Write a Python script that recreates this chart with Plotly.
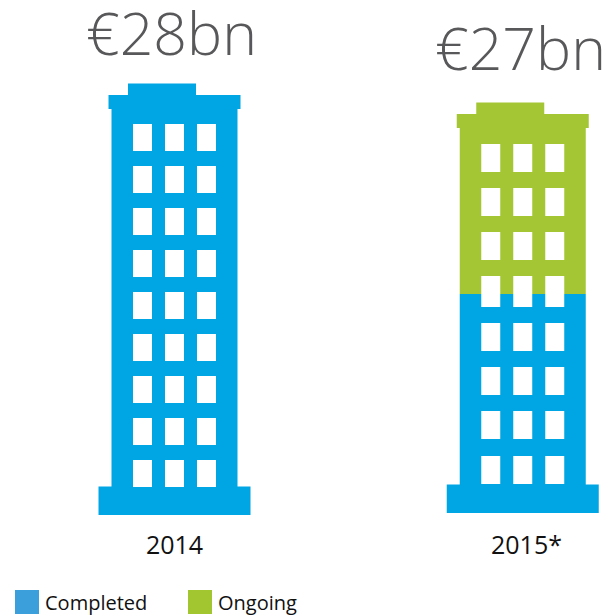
import plotly.graph_objects as go

# --- data (EUR bn, as drawn) ---
years = ["2014", "2015*"]
totals_label = ["€28bn", "€27bn"]
completed = [28.0, 15.1]
ongoing = [0.0, 11.45]
series_names = ["Completed", "Ongoing"]

# --- style / layout ---
BLUE = "#00a5e3"
GREEN = "#a5c634"
LEG_BLUE = "#3b9fdb"
LEG_GREEN = "#a2c62f"
W, H = 603, 616
AXIS_Y = 515
PX = 406 / 28  # pixels per bn
centers = [174.5, 522.75]
label_x = [174.5, 526.5]
base_lift = [0.0, 2 / PX]
BODY_W = 126

def y_px(p):
    return (AXIS_Y - p) / PX

fig = go.Figure()
fig.add_bar(name=series_names[0], x=centers, y=completed, base=base_lift, width=BODY_W,
            marker=dict(color=BLUE, line=dict(width=0)), showlegend=False)
fig.add_bar(name=series_names[1], x=centers, y=ongoing,
            base=[b + c for b, c in zip(base_lift, completed)], width=BODY_W,
            marker=dict(color=GREEN, line=dict(width=0)), showlegend=False)

shapes = []
def rect(x0, x1, y0, y1, color):
    shapes.append(dict(type="rect", xref="x", yref="y", x0=x0, x1=x1,
                       y0=y_px(y0), y1=y_px(y1), fillcolor=color,
                       line=dict(width=0), layer="above"))

win_tops = [
    [124 + 42 * i for i in range(9)],
    [144, 188, 232, 276, 323, 367, 411, 456],
]
win_h = [
    [27] * 9,
    [28, 28, 28, 31, 28, 28, 28, 28],
]
win_dx = [-32, 0, 32]

for i, c in enumerate(centers):
    total = completed[i] + ongoing[i] + base_lift[i]
    top_col = GREEN if ongoing[i] > 0 else BLUE
    base_bottom = AXIS_Y - base_lift[i] * PX
    body_top = AXIS_Y - total * PX
    # plinth
    rect(c - 76, c + 76, base_bottom - 28.5, base_bottom, BLUE)
    # cornice and off-centre cap sit on top of the body
    rect(c - 66, c + 66, body_top - 14, body_top, top_col)
    rect(c - 46.5, c + 21.5, body_top - 25.5, body_top - 14, top_col)
    for t, h in zip(win_tops[i], win_h[i]):
        for dx in win_dx:
            rect(c + dx - 9.5, c + dx + 9.5, t, t + h, "white")

ann = []
title_font = dict(family="Open Sans", size=59, color="#58585a", weight=300)
title_y = [32, 47]
title_x = [171.5, 520]
for i, c in enumerate(centers):
    ann.append(dict(x=title_x[i], y=y_px(title_y[i]), xref="x", yref="y", text=totals_label[i],
                    showarrow=False, font=title_font, xanchor="center", yanchor="middle"))

# legend drawn as swatches + labels
leg_y = 602
for x0, col, name in [(15, LEG_BLUE, series_names[0]), (188, LEG_GREEN, series_names[1])]:
    shapes.append(dict(type="rect", xref="x", yref="paper", x0=x0, x1=x0 + 24,
                       y0=(AXIS_Y - (leg_y + 12)) / AXIS_Y,
                       y1=(AXIS_Y - (leg_y - 12)) / AXIS_Y,
                       fillcolor=col, line=dict(width=0)))
    ann.append(dict(x=x0 + 28, y=(AXIS_Y - leg_y) / AXIS_Y, xref="x", yref="paper", text=name,
                    showarrow=False, xanchor="left", yanchor="middle",
                    font=dict(family="Open Sans", size=20, color="#111111", weight=500)))

fig.update_layout(
    width=W, height=H, margin=dict(l=0, r=0, t=0, b=H - AXIS_Y),
    paper_bgcolor="white", plot_bgcolor="white", barmode="overlay",
    shapes=shapes, annotations=ann, showlegend=False,
    xaxis=dict(range=[0, W], tickmode="array", tickvals=label_x, ticktext=years,
               showgrid=False, zeroline=False, showline=False, ticks="",
               ticklabelstandoff=13,
               tickfont=dict(family="Open Sans", size=25, color="#111111", weight=500)),
    yaxis=dict(range=[0, AXIS_Y / PX], visible=False),
)
fig.write_html("out.html", post_script="document.body.style.margin='0';document.body.style.overflow='hidden';",
               config=dict(displayModeBar=False))
